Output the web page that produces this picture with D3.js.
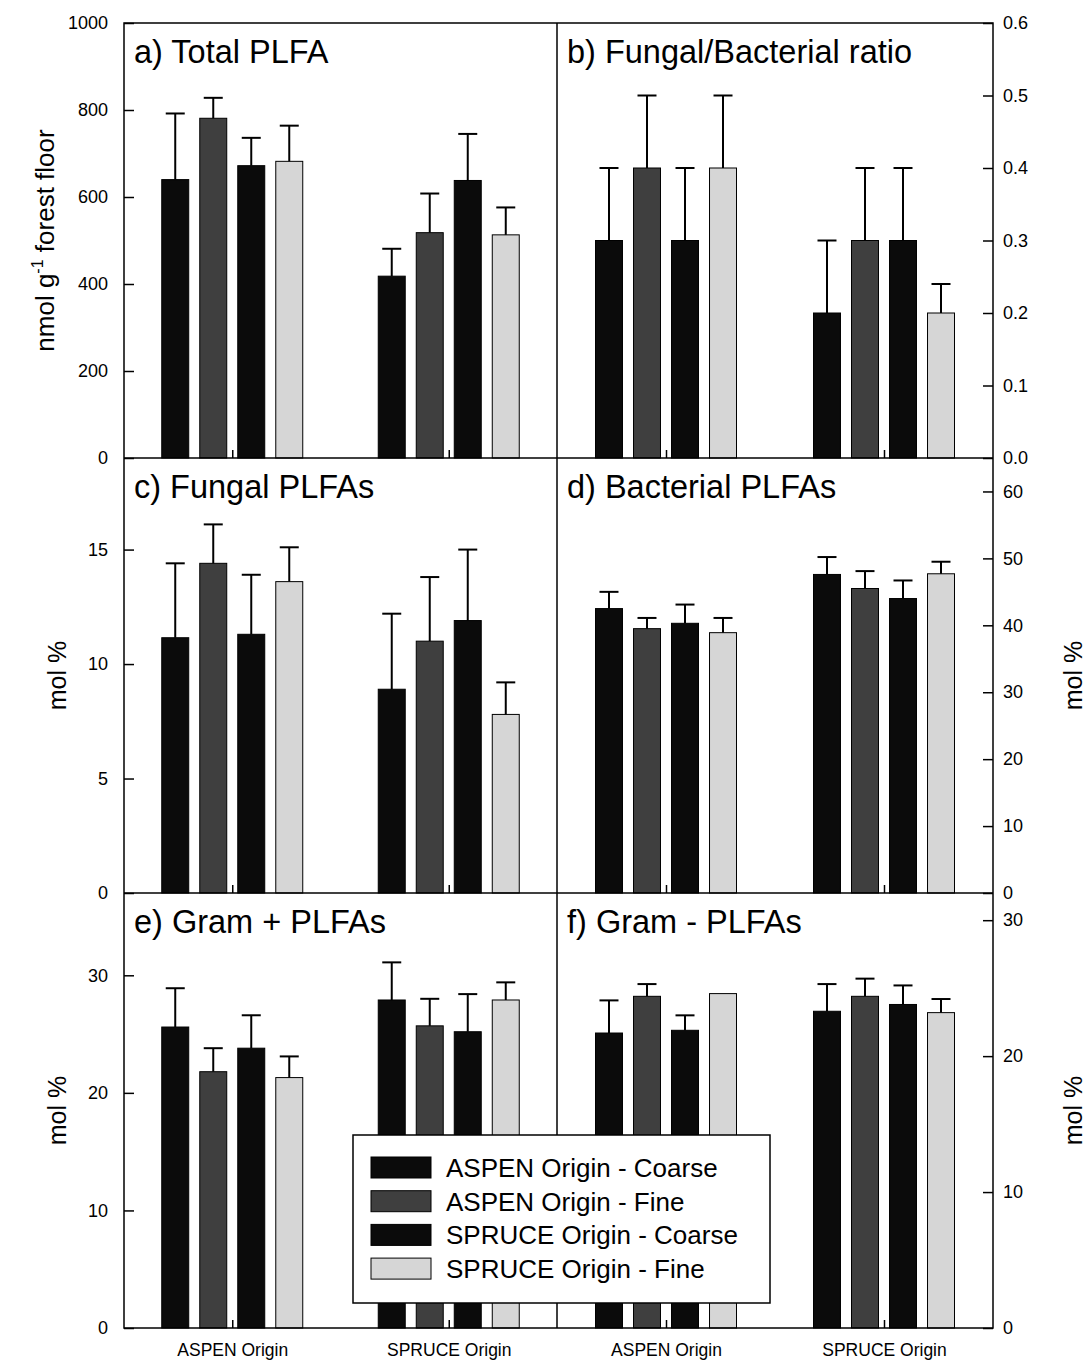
<!DOCTYPE html>
<html>
<head>
<meta charset="utf-8">
<title>PLFA panels</title>
<script src="https://cdn.jsdelivr.net/npm/d3@7"></script>
<style>
body { margin: 0; background: #fff; }
text { font-family: "Liberation Sans", Arial, sans-serif; fill: #000; }
</style>
</head>
<body>
<script>
// groups on the x axis and the four bar series
var groups = ["ASPEN Origin", "SPRUCE Origin"];
var series = ["ASPEN Origin - Coarse", "ASPEN Origin - Fine", "SPRUCE Origin - Coarse", "SPRUCE Origin - Fine"];
var seriesFill = ["#0b0b0b", "#3f3f3f", "#0b0b0b", "#d6d6d6"];

// means (ASPEN group first, then SPRUCE group) and top of error bar
var totalMean = [640, 781, 672, 682, 418, 518, 638, 513];
var totalTop  = [792, 828, 736, 764, 481, 608, 745, 576];
var ratioMean = [0.30, 0.40, 0.30, 0.40, 0.20, 0.30, 0.30, 0.20];
var ratioTop  = [0.40, 0.50, 0.40, 0.50, 0.30, 0.40, 0.40, 0.24];
var fungMean  = [11.15, 14.4, 11.3, 13.6, 8.9, 11.0, 11.9, 7.8];
var fungTop   = [14.4, 16.1, 13.9, 15.1, 12.2, 13.8, 15.0, 9.2];
var bactMean  = [42.5, 39.5, 40.3, 38.9, 47.6, 45.5, 44.0, 47.7];
var bactTop   = [45.0, 41.1, 43.1, 41.1, 50.2, 48.1, 46.7, 49.5];
var gposMean  = [25.6, 21.8, 23.8, 21.3, 27.9, 25.7, 25.2, 27.9];
var gposTop   = [28.9, 23.8, 26.6, 23.1, 31.1, 28.0, 28.4, 29.4];
var gnegMean  = [21.7, 24.4, 21.9, 24.6, 23.3, 24.4, 23.8, 23.2];
var gnegTop   = [24.1, 25.3, 23.0, 24.6, 25.3, 25.7, 25.2, 24.2];

// tick values for each y axis
var totalTicks = [0, 200, 400, 600, 800, 1000];
var ratioTicks = [0, 0.1, 0.2, 0.3, 0.4, 0.5, 0.6];
var fungTicks  = [0, 5, 10, 15];
var bactTicks  = [0, 10, 20, 30, 40, 50, 60];
var gposTicks  = [0, 10, 20, 30];
var gnegTicks  = [0, 10, 20, 30];

var w = 1086, h = 1365;
var frameL = 124, frameR = 993, mid = 557;
var rows = [23, 458, 893, 1328];

var svg = d3.select("body").append("svg")
  .attr("width", w)
  .attr("height", h);

var panels = [
  {title: "a) Total PLFA", mean: totalMean, top: totalTop, ticks: totalTicks, max: 1000, fmt: d3.format("d"), side: "left", row: 0},
  {title: "b) Fungal/Bacterial ratio", mean: ratioMean, top: ratioTop, ticks: ratioTicks, max: 0.6, fmt: d3.format(".1f"), side: "right", row: 0},
  {title: "c) Fungal PLFAs", mean: fungMean, top: fungTop, ticks: fungTicks, max: 19, fmt: d3.format("d"), side: "left", row: 1},
  {title: "d) Bacterial PLFAs", mean: bactMean, top: bactTop, ticks: bactTicks, max: 65, fmt: d3.format("d"), side: "right", row: 1},
  {title: "e) Gram + PLFAs", mean: gposMean, top: gposTop, ticks: gposTicks, max: 37, fmt: d3.format("d"), side: "left", row: 2},
  {title: "f) Gram - PLFAs", mean: gnegMean, top: gnegTop, ticks: gnegTicks, max: 32, fmt: d3.format("d"), side: "right", row: 2}
];

var xs = d3.scaleBand().domain(series).range([-70.5, 70.5]).paddingInner(0.29);

panels.forEach(function(p) {
  var pl = p.side == "left" ? frameL : mid;
  var pr = p.side == "left" ? mid : frameR;
  var pt = rows[p.row], pb = rows[p.row + 1];

  var xg = d3.scalePoint().domain(groups).range([pl, pr]).padding(0.5);
  var y = d3.scaleLinear().domain([0, p.max]).range([pb, pt]);

  var g = svg.append("g");

  // bars
  var cells = [];
  groups.forEach(function(gr, gi) {
    series.forEach(function(s, si) {
      cells.push({group: gr, series: s, si: si, v: p.mean[gi * 4 + si], t: p.top[gi * 4 + si]});
    });
  });

  g.selectAll("rect.bar").data(cells).enter().append("rect")
    .attr("class", "bar")
    .attr("x", function(d) { return xg(d.group) + xs(d.series); })
    .attr("y", function(d) { return y(d.v); })
    .attr("width", xs.bandwidth())
    .attr("height", function(d) { return y(0) - y(d.v); })
    .attr("fill", function(d) { return seriesFill[d.si]; })
    .attr("stroke", "#000")
    .attr("stroke-width", 1);

  // error bars (upper only)
  var eb = g.selectAll("g.err").data(cells.filter(function(d) { return d.t > d.v; })).enter().append("g")
    .attr("class", "err")
    .attr("stroke", "#000")
    .attr("stroke-width", 2);
  eb.append("line")
    .attr("x1", function(d) { return xg(d.group) + xs(d.series) + xs.bandwidth() / 2; })
    .attr("x2", function(d) { return xg(d.group) + xs(d.series) + xs.bandwidth() / 2; })
    .attr("y1", function(d) { return y(d.v); })
    .attr("y2", function(d) { return y(d.t); });
  eb.append("line")
    .attr("x1", function(d) { return xg(d.group) + xs(d.series) + xs.bandwidth() / 2 - 9.5; })
    .attr("x2", function(d) { return xg(d.group) + xs(d.series) + xs.bandwidth() / 2 + 9.5; })
    .attr("y1", function(d) { return y(d.t); })
    .attr("y2", function(d) { return y(d.t); });

  // y axis, ticks pointing inward
  var ax = p.side == "left" ? d3.axisLeft(y) : d3.axisRight(y);
  ax.tickValues(p.ticks).tickFormat(p.fmt).tickSizeInner(-10).tickSizeOuter(0)
    .tickPadding(p.side == "left" ? 16 : 10);
  var ag = svg.append("g")
    .attr("transform", "translate(" + (p.side == "left" ? pl : pr) + ",0)")
    .call(ax);
  ag.select(".domain").remove();
  ag.selectAll(".tick line").attr("stroke-width", 1.5);
  ag.selectAll("text").attr("font-size", "18px").attr("font-family", "'Liberation Sans', Arial, sans-serif");

  // little category ticks on the bottom line
  var bx = svg.append("g")
    .attr("transform", "translate(0," + pb + ")")
    .call(d3.axisBottom(xg).tickSizeInner(-8).tickSizeOuter(0).tickFormat(p.row == 2 ? null : ""));
  bx.select(".domain").remove();
  bx.selectAll(".tick line").attr("stroke-width", 1.5);
  bx.selectAll("text").attr("font-size", "17.5px").attr("dy", "1.45em")
    .attr("font-family", "'Liberation Sans', Arial, sans-serif");

  // panel title
  svg.append("text")
    .attr("x", pl + 10)
    .attr("y", pt + 40)
    .attr("font-size", "32.5px")
    .text(p.title);
});

// frame and dividers
svg.append("rect")
  .attr("x", frameL).attr("y", rows[0])
  .attr("width", frameR - frameL).attr("height", rows[3] - rows[0])
  .attr("fill", "none").attr("stroke", "#000").attr("stroke-width", 1.5);
svg.append("line")
  .attr("x1", mid).attr("x2", mid).attr("y1", rows[0]).attr("y2", rows[3])
  .attr("stroke", "#000").attr("stroke-width", 1.5);
[rows[1], rows[2]].forEach(function(ry) {
  svg.append("line")
    .attr("x1", frameL).attr("x2", frameR).attr("y1", ry).attr("y2", ry)
    .attr("stroke", "#000").attr("stroke-width", 1.5);
});

// y axis titles
var t1 = svg.append("text")
  .attr("transform", "translate(54," + ((rows[0] + rows[1]) / 2) + ") rotate(-90)")
  .attr("text-anchor", "middle")
  .attr("font-size", "26px");
t1.append("tspan").text("nmol g");
t1.append("tspan").attr("font-size", "16px").attr("dy", "-11").text("-1");
t1.append("tspan").attr("dy", "11").text(" forest floor");

[[57, 1], [57, 2], [1073, 1], [1073, 2]].forEach(function(a) {
  svg.append("text")
    .attr("transform", "translate(" + a[0] + "," + ((rows[a[1]] + rows[a[1] + 1]) / 2) + ") rotate(-90)")
    .attr("text-anchor", "middle")
    .attr("dy", "0.35em")
    .attr("font-size", "25px")
    .text("mol %");
});

// legend
var lg = svg.append("g").attr("transform", "translate(353,1135)");
lg.append("rect")
  .attr("width", 417).attr("height", 168)
  .attr("fill", "#fff").attr("stroke", "#000").attr("stroke-width", 1.5);
var li = lg.selectAll("g.item").data(series).enter().append("g")
  .attr("class", "item")
  .attr("transform", function(d, i) { return "translate(18," + (22 + i * 33.7) + ")"; });
li.append("rect")
  .attr("width", 60).attr("height", 21)
  .attr("fill", function(d, i) { return seriesFill[i]; })
  .attr("stroke", "#000").attr("stroke-width", 1);
li.append("text")
  .attr("x", 75).attr("y", 20)
  .attr("font-size", "26px")
  .text(function(d) { return d; });
</script>
</body>
</html>
